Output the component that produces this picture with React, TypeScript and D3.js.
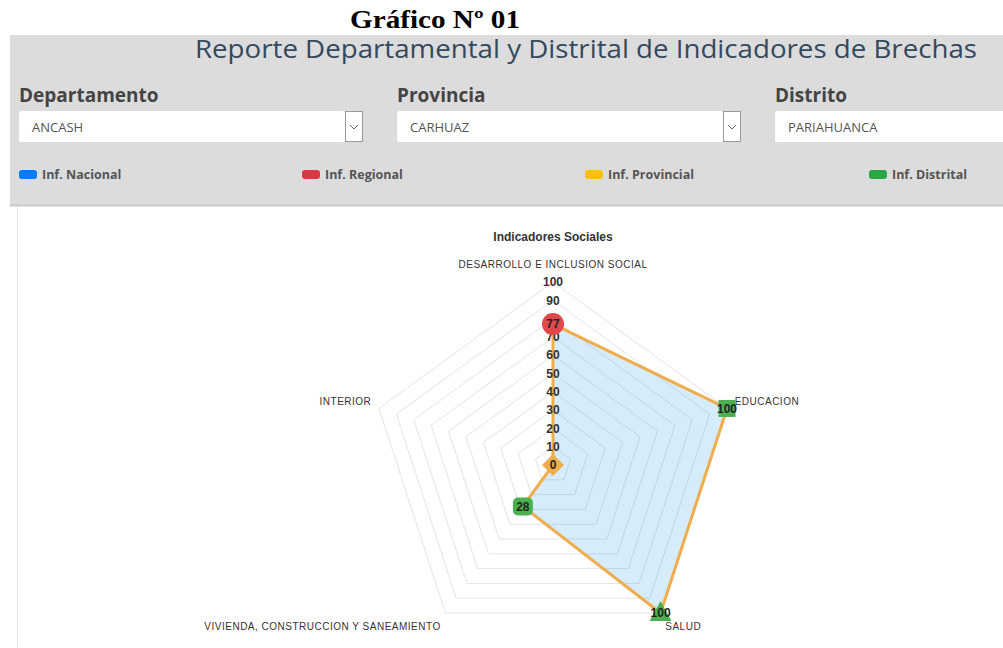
import React from 'react'
import * as d3 from 'd3'

// chart data
const categories = [
	'DESARROLLO E INCLUSION SOCIAL',
	'EDUCACION',
	'SALUD',
	'VIVIENDA, CONSTRUCCION Y SANEAMIENTO',
	'INTERIOR',
]
const values = [77, 100, 100, 28, 0]
const levels = ['Regional', 'Distrital', 'Distrital', 'Distrital', 'Provincial']

const legendNames = ['Inf. Nacional', 'Inf. Regional', 'Inf. Provincial', 'Inf. Distrital']
const legendLevels = ['Nacional', 'Regional', 'Provincial', 'Distrital']

const filterLabels = ['Departamento', 'Provincia', 'Distrito']
const filterValues = ['ANCASH', 'CARHUAZ', 'PARIAHUANCA']

const legendColor = d3
	.scaleOrdinal<string, string>()
	.domain(legendLevels)
	.range(['#007bff', '#dc3545', '#ffc107', '#28a745'])
const pointColor = d3
	.scaleOrdinal<string, string>()
	.domain(legendLevels)
	.range(['#3d8fe0', '#e0484c', '#f0ad4e', '#4cb050'])

const pointShapes = ['circle', 'square', 'triangle', 'rounded', 'diamond']

const W = 1003
const H = 648
const cx = 553
const cy = 465
const R = 183

const App = () => {
	const r = d3.scaleLinear().domain([0, 100]).range([0, R])
	const angle = d3
		.scalePoint<string>()
		.domain(categories)
		.range([0, (2 * Math.PI * (categories.length - 1)) / categories.length])
	const pos = (cat: string, v: number) => {
		const a = angle(cat)! - Math.PI / 2
		return [cx + r(v) * Math.cos(a), cy + r(v) * Math.sin(a)]
	}
	const ticks = r.ticks(10)
	const ring = d3.line().curve(d3.curveLinearClosed)

	const dataPts = categories.map((c, i) => pos(c, values[i]))

	const marker = (shape: string, x: number, y: number, fill: string, key: number) => {
		if (shape === 'circle') return <circle key={key} cx={x} cy={y} r={11} fill={fill} />
		if (shape === 'square') return <rect key={key} x={x - 8.5} y={y - 8.5} width={17} height={17} fill={fill} />
		if (shape === 'rounded')
			return <rect key={key} x={x - 10} y={y - 9} width={20} height={18} rx={5} fill={fill} />
		if (shape === 'triangle')
			return <path key={key} d={`M${x},${y - 12}L${x + 11},${y + 8}L${x - 11},${y + 8}Z`} fill={fill} />
		return <path key={key} d={`M${x},${y - 11}L${x + 11},${y}L${x},${y + 11}L${x - 11},${y}Z`} fill={fill} />
	}

	const filterX = [19, 397, 775]
	const legendX = [19, 302, 585, 869]

	return (
		<svg width={W} height={H} style={{ position: 'absolute', left: 0, top: 0 }}>
			<rect width={W} height={H} fill="#fff" />
			<text
				x={435}
				y={28}
				textAnchor="middle"
				fontFamily="Liberation Serif, Times New Roman, serif"
				fontWeight="bold"
				fontSize={25}
				textLength={170}
				lengthAdjust="spacingAndGlyphs"
			>
				Gráfico Nº 01
			</text>

			{/* filter panel */}
			<rect x={10} y={35} width={W - 10} height={170} fill="#dcdcdc" />
			<line x1={10} x2={W} y1={205.5} y2={205.5} stroke="#cacaca" strokeWidth={2} />
			<line x1={17.5} x2={17.5} y1={206} y2={H} stroke="#e2e2e2" />
			<text
				x={977}
				y={58}
				textAnchor="end"
				fontFamily="Open Sans, sans-serif"
				fontSize={25}
				fill="#34495e"
				textLength={782}
				lengthAdjust="spacingAndGlyphs"
			>
				Reporte Departamental y Distrital de Indicadores de Brechas
			</text>
			{filterLabels.map((lab, i) => (
				<g key={lab}>
					<text
						x={filterX[i]}
						y={102}
						fontFamily="Open Sans, sans-serif"
						fontWeight="bold"
						fontSize={19}
						fill="#444"
					>
						{lab}
					</text>
					<rect x={filterX[i]} y={111} width={i < 2 ? 326 : 260} height={31} rx={2} fill="#fff" />
					<text x={filterX[i] + 13} y={132} fontFamily="Open Sans, sans-serif" fontSize={13} fill="#555">
						{filterValues[i]}
					</text>
					{i < 2 && (
						<g>
							<rect x={filterX[i] + 326.5} y={111.5} width={17} height={30} fill="#fff" stroke="#999" />
							<path
								d={`M${filterX[i] + 331},${125}l4,4l4,-4`}
								fill="none"
								stroke="#666"
								strokeWidth={1}
							/>
						</g>
					)}
				</g>
			))}
			{legendNames.map((n, i) => (
				<g key={n}>
					<rect x={legendX[i]} y={170} width={18} height={9} rx={3} fill={legendColor(legendLevels[i])} />
					<text x={legendX[i] + 23} y={179} fontFamily="Open Sans, sans-serif" fontWeight="bold" fontSize={12.5} fill="#555">
						{n}
					</text>
				</g>
			))}

			{/* radar */}
			<text x={cx} y={241} textAnchor="middle" fontFamily="Liberation Sans, Arial, sans-serif" fontWeight="bold" fontSize={12} fill="#333">
				Indicadores Sociales
			</text>
			{ticks.slice(1).map((t) => (
				<path
					key={t}
					d={ring(categories.map((c) => pos(c, t) as [number, number]))!}
					fill="none"
					stroke="#e4e4e4"
				/>
			))}
			<path
				d={ring(dataPts as [number, number][])!}
				fill="rgba(54,162,235,0.2)"
				stroke="#f0ad4e"
				strokeWidth={3}
				strokeLinejoin="round"
			/>
			{ticks.map((t) => (
				<text
					key={t}
					x={cx}
					y={cy - r(t)}
					dy="0.35em"
					textAnchor="middle"
					fontFamily="Liberation Sans, Arial, sans-serif"
					fontWeight="bold"
					fontSize={12}
					fill="#333"
				>
					{t}
				</text>
			))}
			{categories.map((c) => {
				const a = angle(c)! - Math.PI / 2
				const cosA = Math.cos(a)
				const sinA = Math.sin(a)
				const x = cx + (R + 8) * cosA
				const y = cy + (R + 8) * sinA
				const anchor = cosA > 0.1 ? 'start' : cosA < -0.1 ? 'end' : 'middle'
				const yy = sinA < -0.9 ? y - 6 : sinA < 0 ? y - 1 : y + 10
				return (
					<text
						key={c}
						x={x}
						y={yy}
						textAnchor={anchor}
						fontFamily="Liberation Sans, Arial, sans-serif"
						fontSize={10}
						letterSpacing={0.5}
						fill="#333"
					>
						{c}
					</text>
				)
			})}
			{dataPts.map(([x, y], i) => marker(pointShapes[i], x, y, pointColor(levels[i]), i))}
			{dataPts.map(([x, y], i) => (
				<text
					key={categories[i]}
					x={x}
					y={y}
					dy="0.35em"
					textAnchor="middle"
					fontFamily="Liberation Sans, Arial, sans-serif"
					fontWeight="bold"
					fontSize={12}
					fill="#222"
				>
					{values[i]}
				</text>
			))}
		</svg>
	)
}

export default App
